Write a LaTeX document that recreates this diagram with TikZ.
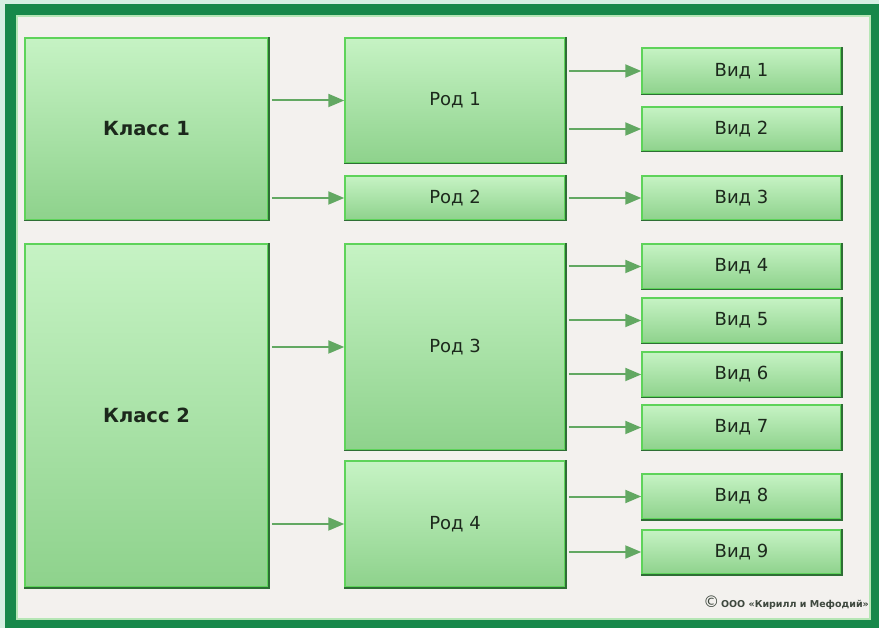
\documentclass[tikz,border=0pt]{standalone}
\usepackage{fontspec}
\setmainfont{DejaVu Sans}
\usetikzlibrary{arrows.meta}
\definecolor{bgmint}{HTML}{D5EFE2}
\definecolor{frame}{HTML}{17884A}
\definecolor{inner}{HTML}{F3F1EE}
\definecolor{framelight}{HTML}{B5E6B5}
\definecolor{boxtop}{HTML}{C6F3C4}
\definecolor{boxbot}{HTML}{8ED28C}
\definecolor{boxborder}{HTML}{5ED35A}
\definecolor{boxdark}{HTML}{2E6E35}
\definecolor{arrowc}{HTML}{62A862}
\definecolor{txt}{HTML}{1C281C}
\tikzset{
  box/.style={rectangle, draw=boxborder, line width=1.5pt, top color=boxtop, bottom color=boxbot,
    text=txt, inner sep=0pt, font=\fontsize{18}{18}\selectfont},
  bigbox/.style={box, font=\fontsize{19.5}{19.5}\selectfont\bfseries},
  darkedge/.style={draw=boxdark, line width=1.5pt},
  link/.style={draw=arrowc, line width=2pt, -{Triangle[length=16pt,width=13pt]}, shorten <=3pt}
}
\begin{document}
\begin{tikzpicture}[x=1pt,y=-1pt]
\useasboundingbox (0,0) rectangle (879,628);
\fill[bgmint] (0,0) rectangle (879,628);
\fill[frame] (5,4) rectangle (879,628);
\fill[inner] (16,15) rectangle (871,620);
\draw[framelight, line width=1.5pt] (17,16) rectangle (870,619);

% classes
\node[bigbox, minimum width=243pt, minimum height=182pt] (k1) at (146.5,129) {Класс 1};
\node[bigbox, minimum width=243pt, minimum height=343pt] (k2) at (146.5,415.5) {Класс 2};
% genera
\node[box, minimum width=220pt, minimum height=125pt] (r1) at (455,100.5) {Род 1};
\node[box, minimum width=220pt, minimum height=44pt] (r2) at (455,198) {Род 2};
\node[box, minimum width=220pt, minimum height=206pt] (r3) at (455,347) {Род 3};
\node[box, minimum width=220pt, minimum height=126pt] (r4) at (455,524) {Род 4};
% species
\node[box, minimum width=199pt, minimum height=46pt] (v1) at (741.5,71) {Вид 1};
\node[box, minimum width=199pt, minimum height=44pt] (v2) at (741.5,129) {Вид 2};
\node[box, minimum width=199pt, minimum height=44pt] (v3) at (741.5,198) {Вид 3};
\node[box, minimum width=199pt, minimum height=45pt] (v4) at (741.5,266.5) {Вид 4};
\node[box, minimum width=199pt, minimum height=45pt] (v5) at (741.5,320.5) {Вид 5};
\node[box, minimum width=199pt, minimum height=45pt] (v6) at (741.5,374.5) {Вид 6};
\node[box, minimum width=199pt, minimum height=45pt] (v7) at (741.5,427.5) {Вид 7};
\node[box, minimum width=199pt, minimum height=45pt] (v8) at (741.5,496.5) {Вид 8};
\node[box, minimum width=199pt, minimum height=44pt] (v9) at (741.5,552) {Вид 9};

\foreach \n in {k1,k2,r1,r2,r3,r4,v1,v2,v3,v4,v5,v6,v7,v8,v9}
  \draw[darkedge] (\n.north east) -- (\n.south east) -- (\n.south west);

% connectors
\draw[link] (k1.east |- r1.west) -- (r1.west);
\draw[link] (k1.east |- r2.west) -- (r2.west);
\draw[link] (k2.east |- r3.west) -- (r3.west);
\draw[link] (k2.east |- r4.west) -- (r4.west);
\draw[link] (r1.east |- v1.west) -- (v1.west);
\draw[link] (r1.east |- v2.west) -- (v2.west);
\draw[link] (r2.east |- v3.west) -- (v3.west);
\draw[link] (r3.east |- v4.west) -- (v4.west);
\draw[link] (r3.east |- v5.west) -- (v5.west);
\draw[link] (r3.east |- v6.west) -- (v6.west);
\draw[link] (r3.east |- v7.west) -- (v7.west);
\draw[link] (r4.east |- v8.west) -- (v8.west);
\draw[link] (r4.east |- v9.west) -- (v9.west);

\node[anchor=east, text=txt!85, inner sep=0pt] (copy) at (869,603)
  {{\fontsize{16}{16}\selectfont ©}\,{\fontsize{9.5}{10}\selectfont\bfseries ООО «Кирилл и Мефодий»}};
\end{tikzpicture}
\end{document}
